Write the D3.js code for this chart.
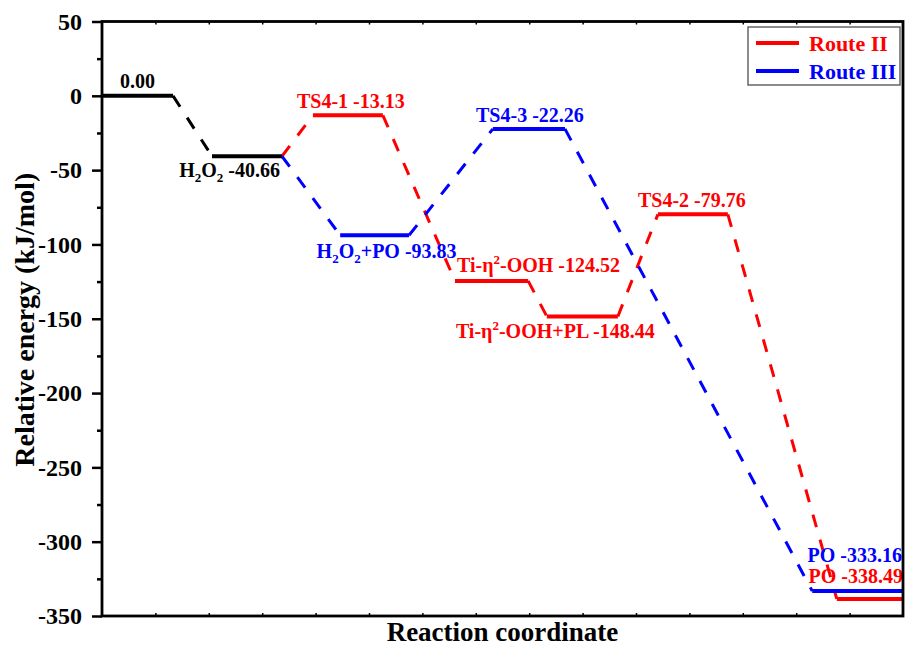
<!DOCTYPE html>
<html>
<head>
<meta charset="utf-8">
<script src="https://cdn.jsdelivr.net/npm/d3@7"></script>
<style>
  html, body { margin: 0; padding: 0; background: #fff; }
  svg { display: block; font-family: "Liberation Serif", "Times New Roman", serif; font-weight: bold; }
</style>
</head>
<body>
<svg id="chart" width="906" height="646"></svg>
<script>
// Energy levels (kJ/mol) along the reaction coordinate
const levelIds      = ["R", "H2O2", "TS4-1", "H2O2+PO", "TiOOH", "TS4-3", "TiOOH+PL", "TS4-2", "PO-III", "PO-II"];
const levelNames    = ["", "H_2O_2", "TS4-1", "H_2O_2+PO", "Ti-η^2-OOH", "TS4-3", "Ti-η^2-OOH+PL", "TS4-2", "PO", "PO"];
const levelEnergies = [0.00, -40.66, -13.13, -93.83, -124.52, -22.26, -148.44, -79.76, -333.16, -338.49];
const levelStart    = [0.00, 2.06, 3.95, 4.46, 6.61, 7.32, 8.33, 10.41, 13.30, 13.76];
const levelEnd      = [1.33, 3.37, 5.26, 5.75, 7.98, 8.67, 9.66, 11.72, 15.00, 15.00];
const levelRoute    = ["common", "common", "II", "III", "II", "III", "II", "II", "III", "II"];

// Pathways (sequences of level ids)
const pathCommon   = ["R", "H2O2"];
const pathRouteII  = ["H2O2", "TS4-1", "TiOOH", "TiOOH+PL", "TS4-2", "PO-II"];
const pathRouteIII = ["H2O2", "H2O2+PO", "TS4-3", "PO-III"];

const legendNames = ["Route II", "Route III"];
const yTicks = [50, 0, -50, -100, -150, -200, -250, -300, -350];
const yMinorTicks = [25, -25, -75, -125, -175, -225, -275, -325];
const xTicks = d3.range(1, 15);

const colors = { common: "#000000", II: "#ff0000", III: "#0000ff" };

// Label placement: offset from level (anchor side, dx, dy from level line)
const labelPlace = {
  "R":        { anchor: "middle", ref: "mid",   dx: 0,   dy: -8 },
  "H2O2":     { anchor: "end",    ref: "end",   dx: -2,  dy: 21 },
  "TS4-1":    { anchor: "middle", ref: "mid",   dx: 3,   dy: -7 },
  "H2O2+PO":  { anchor: "middle", ref: "mid",   dx: 12,  dy: 23 },
  "TiOOH":    { anchor: "start",  ref: "start", dx: 2,   dy: -9 },
  "TS4-3":    { anchor: "middle", ref: "mid",   dx: 1,   dy: -7 },
  "TiOOH+PL": { anchor: "middle", ref: "mid",   dx: -27, dy: 22 },
  "TS4-2":    { anchor: "middle", ref: "mid",   dx: -1,  dy: -7 },
  "PO-III":   { anchor: "end",    ref: "end",   dx: -1,  dy: -29 },
  "PO-II":    { anchor: "end",    ref: "end",   dx: 0,   dy: -16 }
};

const svg = d3.select("#chart");
const margin = { left: 102, right: 3 };
const W = 906;
const x = d3.scaleLinear().domain([0, 15]).range([margin.left, W - margin.right]);
const y = d3.scaleLinear().domain([-350, 50]).range([616, 21.5]);

const levels = levelIds.map((id, i) => ({
  id, name: levelNames[i], e: levelEnergies[i], x0: levelStart[i], x1: levelEnd[i], route: levelRoute[i]
}));
const byId = Object.fromEntries(levels.map(d => [d.id, d]));

// Dashed connectors between consecutive levels
function connectors(path, color) {
  const segs = [];
  for (let i = 0; i < path.length - 1; i++) {
    segs.push({ a: byId[path[i]], b: byId[path[i + 1]], color });
  }
  return segs;
}
const allSegs = [
  ...connectors(pathCommon, colors.common),
  ...connectors(pathRouteII, colors.II),
  ...connectors(pathRouteIII, colors.III)
];

svg.append("g").selectAll("line").data(allSegs).join("line")
  .attr("x1", d => x(d.a.x1)).attr("y1", d => y(d.a.e))
  .attr("x2", d => x(d.b.x0)).attr("y2", d => y(d.b.e))
  .attr("stroke", d => d.color)
  .attr("stroke-width", 3)
  .attr("stroke-dasharray", "13,13");

// Level bars
svg.append("g").selectAll("line").data(levels).join("line")
  .attr("x1", d => x(d.x0)).attr("x2", d => x(d.x1))
  .attr("y1", d => y(d.e)).attr("y2", d => y(d.e))
  .attr("stroke", d => colors[d.route])
  .attr("stroke-width", 4);

// Level labels with sub/superscript markup (_2 and ^2)
function addRich(textSel, str) {
  const re = /([_^])(\d)/g;
  let last = 0, m, shift = 0;
  while ((m = re.exec(str)) !== null) {
    if (m.index > last) {
      textSel.append("tspan").attr("dy", -shift).text(str.slice(last, m.index));
      shift = 0;
    }
    const off = m[1] === "_" ? 5 : -8;
    textSel.append("tspan").attr("dy", off - shift).attr("font-size", 13).text(m[2]);
    shift = off;
    last = re.lastIndex;
  }
  textSel.append("tspan").attr("dy", -shift).text(str.slice(last));
}

const labelG = svg.append("g").attr("font-size", 20);
levels.forEach(d => {
  const p = labelPlace[d.id];
  const refX = p.ref === "mid" ? (x(d.x0) + x(d.x1)) / 2 : p.ref === "start" ? x(d.x0) : x(d.x1);
  const t = labelG.append("text")
    .attr("x", refX + p.dx)
    .attr("y", y(d.e) + p.dy)
    .attr("text-anchor", p.anchor)
    .attr("fill", colors[d.route]);
  const str = (d.name ? d.name + " " : "") + d.e.toFixed(2);
  addRich(t, str);
});

// Axes
const tickFmt = d => String(d);
const yAxis = svg.append("g").attr("transform", `translate(${margin.left},0)`)
  .call(d3.axisLeft(y).tickValues(yTicks).tickSize(10).tickPadding(10).tickFormat(tickFmt));
yAxis.select(".domain").remove();
yAxis.selectAll(".tick line").attr("stroke-width", 2.5);
yAxis.selectAll(".tick text").attr("font-size", 24).attr("font-family", "Liberation Serif").attr("font-weight", "bold").attr("fill", "#000");

const yMinor = svg.append("g").attr("transform", `translate(${margin.left},0)`)
  .call(d3.axisLeft(y).tickValues(yMinorTicks).tickSize(5).tickFormat(""));
yMinor.select(".domain").remove();
yMinor.selectAll(".tick line").attr("stroke-width", 2.5);

const xBottom = svg.append("g").attr("transform", `translate(0,${y(-350)})`)
  .call(d3.axisBottom(x).tickValues(xTicks).tickSize(-3).tickFormat(""));
xBottom.select(".domain").remove();
xBottom.selectAll(".tick line").attr("stroke-width", 1.5);

const xTop = svg.append("g").attr("transform", `translate(0,${y(50)})`)
  .call(d3.axisTop(x).tickValues(xTicks).tickSize(-3).tickFormat(""));
xTop.select(".domain").remove();
xTop.selectAll(".tick line").attr("stroke-width", 1.5);

// Frame
svg.append("rect")
  .attr("x", x(0)).attr("y", y(50))
  .attr("width", x(15) - x(0)).attr("height", y(-350) - y(50))
  .attr("fill", "none").attr("stroke", "#000").attr("stroke-width", 2.8);

// Axis titles
svg.append("text")
  .attr("transform", `translate(34,${(y(50) + y(-350)) / 2 + 1}) rotate(-90)`)
  .attr("text-anchor", "middle").attr("font-size", 28)
  .text("Relative energy (kJ/mol)");
svg.append("text")
  .attr("x", (x(0) + x(15)) / 2).attr("y", 641)
  .attr("text-anchor", "middle").attr("font-size", 27)
  .text("Reaction coordinate");

// Legend
const lg = svg.append("g");
lg.append("rect").attr("x", 748).attr("y", 27).attr("width", 152).attr("height", 58)
  .attr("fill", "#fff").attr("stroke", "#666").attr("stroke-width", 1.5);
const legendColors = [colors.II, colors.III];
legendNames.forEach((name, i) => {
  const cy = 43 + i * 28;
  lg.append("line").attr("x1", 756).attr("x2", 799).attr("y1", cy).attr("y2", cy)
    .attr("stroke", legendColors[i]).attr("stroke-width", 4);
  lg.append("text").attr("x", 809).attr("y", cy + 8).attr("font-size", 22)
    .attr("fill", legendColors[i]).text(name);
});
</script>
</body>
</html>
